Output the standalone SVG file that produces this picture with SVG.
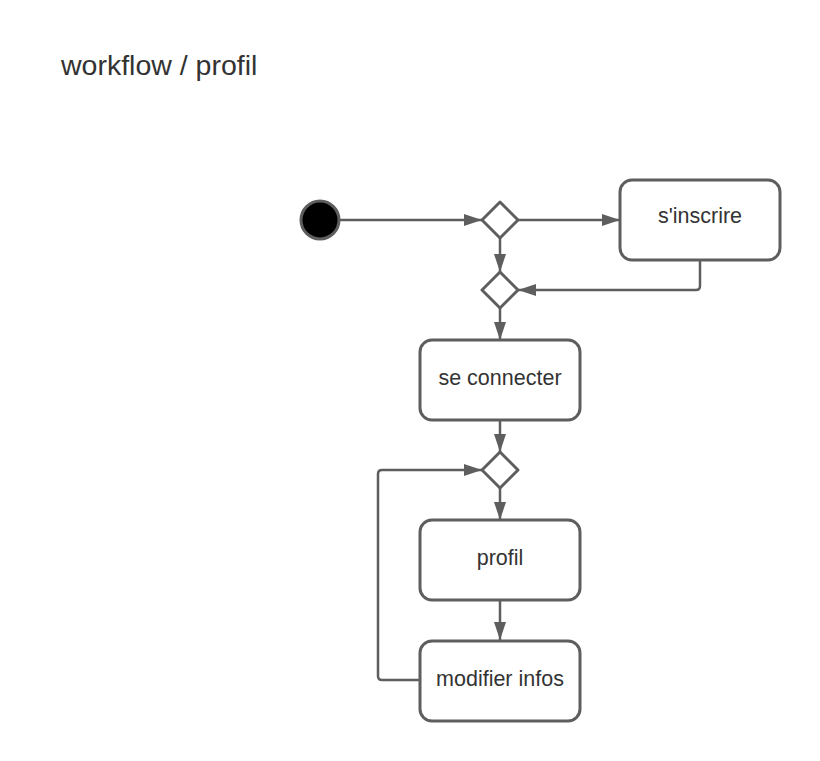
<svg xmlns="http://www.w3.org/2000/svg" width="820" height="761" viewBox="0 0 820 761">
<style>
.box{fill:#fff;stroke:#5e5e5e;stroke-width:3}
.dia{fill:#fff;stroke:#5e5e5e;stroke-width:3;stroke-linejoin:round}
.lbl{font-family:"Liberation Sans",Arial,sans-serif;font-size:21.5px;fill:#333;text-anchor:middle}
.edge{fill:none;stroke:#5e5e5e;stroke-width:2.5;stroke-linejoin:round}
</style>
<defs>
<marker id="arr" viewBox="0 0 18 12" refX="18" refY="6" markerWidth="18" markerHeight="12" markerUnits="userSpaceOnUse" orient="auto">
<path d="M0,0 L18,6 L0,12 Z" fill="#5e5e5e"/>
</marker>
</defs>
<rect width="820" height="761" fill="#fff"/>
<text x="61" y="75" font-family="Liberation Sans,Arial,sans-serif" font-size="28.5" fill="#333">workflow / profil</text>
<g id="connectors">
<path class="edge" d="M340,220 H482" marker-end="url(#arr)"/>
<path class="edge" d="M518,220 H620" marker-end="url(#arr)"/>
<path class="edge" d="M500,238 V272" marker-end="url(#arr)"/>
<path class="edge" d="M700,260 V286 Q700,290 696,290 H518" marker-end="url(#arr)"/>
<path class="edge" d="M500,308 V340" marker-end="url(#arr)"/>
<path class="edge" d="M500,420 V452" marker-end="url(#arr)"/>
<path class="edge" d="M500,488 V520" marker-end="url(#arr)"/>
<path class="edge" d="M500,600 V640" marker-end="url(#arr)"/>
<path class="edge" d="M420,680 H382 Q378,680 378,676 V474 Q378,470 382,470 H482" marker-end="url(#arr)"/>
</g>
<g id="start"><circle cx="320" cy="220" r="19" fill="#000" stroke="#5e5e5e" stroke-width="3"/></g>
<g id="decision1"><path class="dia" d="M500,202 L518,220 L500,238 L482,220 Z"/></g>
<g id="decision2"><path class="dia" d="M500,272 L518,290 L500,308 L482,290 Z"/></g>
<g id="decision3"><path class="dia" d="M500,452 L518,470 L500,488 L482,470 Z"/></g>
<g id="sinscrire"><rect class="box" x="620" y="180" width="160" height="80" rx="12"/><text class="lbl" x="700" y="223">s'inscrire</text></g>
<g id="seconnecter"><rect class="box" x="420" y="340" width="160" height="80" rx="12"/><text class="lbl" x="500" y="385">se connecter</text></g>
<g id="profil"><rect class="box" x="420" y="520" width="160" height="80" rx="12"/><text class="lbl" x="500" y="565">profil</text></g>
<g id="modifier"><rect class="box" x="420" y="641" width="160" height="80" rx="12"/><text class="lbl" x="500" y="686">modifier infos</text></g>
</svg>
